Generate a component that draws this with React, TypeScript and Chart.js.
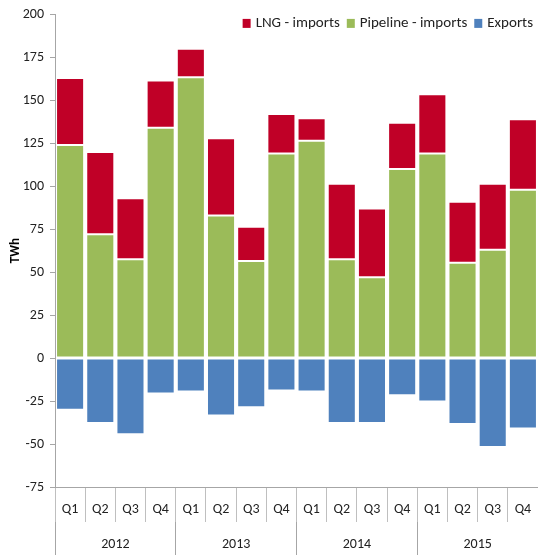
import React, { useEffect, useRef } from "react";
import { Chart, registerables } from "chart.js";

Chart.register(...registerables);

const quarters = ["Q1", "Q2", "Q3", "Q4", "Q1", "Q2", "Q3", "Q4", "Q1", "Q2", "Q3", "Q4", "Q1", "Q2", "Q3", "Q4"];
const years = ["2012", "2013", "2014", "2015"];
const pipelineImports = [124, 72, 57.5, 134, 163.5, 83, 56.5, 119, 126.5, 57.5, 47, 110, 119, 55.5, 63, 98];
const lngImports = [39, 48, 35.5, 27.5, 16.5, 45, 20, 23, 13, 44, 40, 27, 34.5, 35.5, 38.5, 41];
const exportsTWh = [-30, -37.7, -44.3, -20.6, -19.4, -33.4, -28.6, -18.8, -19.4, -37.7, -37.7, -21.6, -25.3, -38.3, -51.7, -41];
const yTicks = [-75, -50, -25, 0, 25, 50, 75, 100, 125, 150, 175, 200];
const legendOrder = [1, 0, 2];

const FONT = "Carlito, Calibri, Lato, sans-serif";

const topLegend = {
  id: "topLegend",
  afterDraw(chart: any) {
    const ctx = chart.ctx;
    const area = chart.chartArea;
    ctx.save();
    ctx.font = `15px ${FONT}`;
    ctx.textBaseline = "middle";
    ctx.textAlign = "left";
    const box = 8;
    const gapText = 5;
    const gapItem = 7;
    const items = legendOrder.map((i) => chart.data.datasets[i]);
    const widths = items.map((d: any) => box + gapText + ctx.measureText(d.label).width);
    const total = widths.reduce((a: number, b: number) => a + b, 0) + gapItem * (items.length - 1);
    let x = area.right - 5 - total;
    const cy = area.top + 9;
    items.forEach((d: any, k: number) => {
      ctx.fillStyle = d.backgroundColor;
      ctx.fillRect(x, cy - 4.5, box, 9);
      ctx.fillStyle = "#222";
      ctx.fillText(d.label, x + box + gapText, cy);
      x += widths[k] + gapItem;
    });
    ctx.restore();
  },
};

export default function App() {
  const ref = useRef<HTMLCanvasElement>(null);
  useEffect(() => {
    document.body.style.margin = "0";
    const chart = new Chart(ref.current!, {
      type: "bar",
      data: {
        labels: quarters,
        datasets: [
          { label: "Pipeline - imports", data: pipelineImports, backgroundColor: "#9BBB59", borderColor: "#FFFFFF", borderWidth: 1, borderSkipped: false },
          { label: "LNG - imports", data: lngImports, backgroundColor: "#C00027", borderColor: "#FFFFFF", borderWidth: 1, borderSkipped: false },
          { label: "Exports", data: exportsTWh, backgroundColor: "#4F81BD", borderColor: "#FFFFFF", borderWidth: 1, borderSkipped: false },
        ],
      },
      plugins: [topLegend],
      options: {
        animation: false,
        responsive: true,
        maintainAspectRatio: false,
        datasets: { bar: { categoryPercentage: 0.93, barPercentage: 1 } },
        layout: { padding: { top: 13, right: 0, left: 0, bottom: 0 } },
        plugins: {
          tooltip: { enabled: false },
          legend: { display: false },
        },
        scales: {
          x: {
            stacked: true,
            grid: { offset: true, drawOnChartArea: false, tickLength: 35, color: "#BFBFBF" },
            border: { color: "#A6A6A6" },
            ticks: { color: "#222", font: { family: FONT, size: 14 }, padding: -21, maxRotation: 0, autoSkip: false },
            afterFit: (s: any) => { s.height = 35; },
          },
          x2: {
            type: "category",
            labels: years,
            position: "bottom",
            offset: true,
            grid: { offset: true, drawOnChartArea: false, tickLength: 33, color: "#A6A6A6" },
            border: { display: false },
            ticks: { color: "#222", font: { family: FONT, size: 14 }, padding: -19, maxRotation: 0, autoSkip: false },
            afterFit: (s: any) => { s.height = 33; },
          },
          y: {
            stacked: true,
            min: -75,
            max: 200,
            afterBuildTicks: (s: any) => { s.ticks = yTicks.map((v) => ({ value: v })); },
            grid: { drawOnChartArea: false, tickLength: 5, color: "#A6A6A6" },
            border: { color: "#A6A6A6" },
            ticks: { color: "#222", font: { family: FONT, size: 14 }, padding: 6 },
            title: { display: true, text: "TWh", color: "#000", font: { family: FONT, size: 13, weight: "bold" }, padding: { top: 8, bottom: 0 } },
            afterFit: (s: any) => { s.width = 55; },
          },
        },
      },
    });
    return () => chart.destroy();
  }, []);
  return (
    <div style={{ width: 538, height: 555, position: "relative" }}>
      <canvas ref={ref} />
    </div>
  );
}
